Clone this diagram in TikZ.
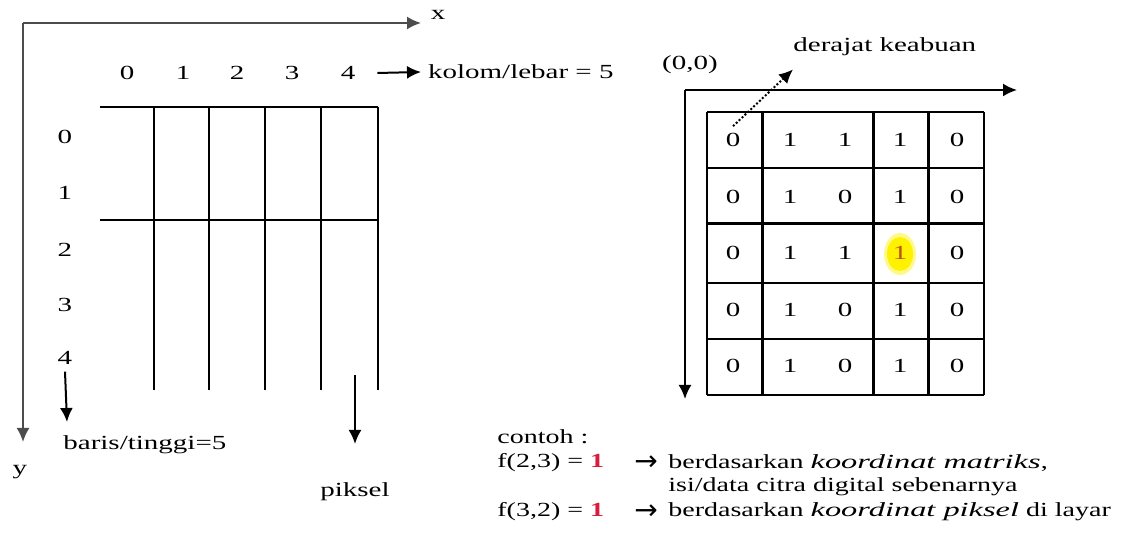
\documentclass[tikz,border=0pt]{standalone}
\usepackage{fontspec}
\setmainfont{Liberation Serif}[FakeStretch=1.45]
\newfontfamily\notefont{Liberation Serif}[FakeStretch=1.40, ItalicFeatures={FakeStretch=1.62}]
\newfontfamily\arrowfont{DejaVu Sans}
\usetikzlibrary{arrows.meta}
\definecolor{numred}{RGB}{215,30,60}
\definecolor{hlorange}{RGB}{190,80,20}
\newcommand{\hlone}{\textcolor{hlorange}{1}}
\newcommand{\bigarrow}{{\fontsize{14}{14}\arrowfont →}}
\tikzstyle{axis} = [draw=black!70, line width=1pt]
\tikzstyle{arrow} = [line width=1pt, -{Latex[length=7pt,width=6.5pt]}]
\tikzstyle{gridline} = [draw=black, line width=0.9pt]
\tikzstyle{thickline} = [draw=black, line width=1.5pt]
\tikzstyle{plain} = [anchor=west, inner sep=0pt]
\tikzstyle{note} = [anchor=west, inner sep=0pt, font=\notefont]

\begin{document}
\begin{tikzpicture}[x=0.5pt, y=-0.5pt]
\useasboundingbox (0,0) rectangle (1130,549);

\node (x) at (438,15) {x};

\node (y) at (20,472) {y};

\coordinate (o) at (23,23);
\coordinate (xtip) at (421,23);
\coordinate (ytip) at (23,442);
\draw [axis, arrow] (o) -- (xtip);
\draw [axis, arrow] (o) -- (ytip);

\node (c0) at (127,73) {0};
\node (c1) at (183,73) {1};
\node (c2) at (237,73) {2};
\node (c3) at (292,73) {3};
\node (c4) at (348,73) {4};

\node (kolom) [anchor=west] at (421,72) {kolom/lebar = 5};
\draw [arrow] ([xshift=7.5pt]c4.east) -- (kolom.west);

\node (r0) at (65,137) {0};
\node (r1) at (65,193) {1};
\node (r2) at (65,250) {2};
\node (r3) at (65,305) {3};
\node (r4) at (65,358) {4};

\draw [gridline] (100,107) -- (378,107);
\draw [gridline] (100,220) -- (378,220);
\foreach \gx in {154,209,265,321,378}
  \draw [gridline] (\gx,107) -- (\gx,390);

\node (baris) [plain] at (63,445) {baris/tinggi=5};
\coordinate (baristip) at (67,422);
\draw [arrow] (r4.south) -- (baristip);

\node (piksel) at (355,492) {piksel};
\coordinate (pstart) at (355,375);
\coordinate (ptip) at (355,444);
\draw [arrow] (pstart) -- (ptip);

\node (origin) at (690,65) {(0,0)};

\node (derajat) [plain] at (793,47) {derajat keabuan};

\coordinate (o2) at (685,90);
\coordinate (x2tip) at (1017,90);
\coordinate (y2tip) at (685,399);
\draw [axis, draw=black, arrow] (o2) -- (x2tip);
\draw [axis, draw=black, arrow] (o2) -- (y2tip);

\foreach \gy in {112,168,283,339,395}
  \draw [gridline] (707,\gy) -- (984,\gy);
\draw [thickline] (707,224) -- (984,224);
\draw [gridline] (707,112) -- (707,395);
\draw [gridline] (984,112) -- (984,395);
\foreach \gx in {762,873,928}
  \draw [thickline] (\gx,112) -- (\gx,395);

\fill [yellow!45] (900,254) ellipse (16 and 21);
\fill [yellow] (900,254) ellipse (13 and 17);

\foreach \vals [count=\r from 0] in {{0,1,1,1,0},{0,1,0,1,0},{0,1,1,\hlone,0},{0,1,0,1,0},{0,1,0,1,0}}
  \foreach \v [count=\c from 0] in \vals {
    \pgfmathsetmacro\mx{{733,790,845,900,957}[\c]}
    \node (m-\r-\c) at (\mx,140+56.6*\r) {\v};
  }

\draw [arrow, densely dotted] (m-0-0.north) -- ([yshift=-6.5pt]derajat.south west);

\node (contoh) [note] at (497,437) {contoh :};

\node (f1) [note] at (497,463) {f(2,3) = \textcolor{numred}{\textbf{1}}};
\node (a1) at (646,463) {\bigarrow};
\node (t1) [note] at (668,463) {berdasarkan \textit{koordinat matriks},};
\node (t2) [note] at (668,487) {isi/data citra digital sebenarnya};

\node (f2) [note] at (497,512) {f(3,2) = \textcolor{numred}{\textbf{1}}};
\node (a2) at (646,512) {\bigarrow};
\node (t3) [note] at (668,512) {berdasarkan \textit{koordinat piksel} di layar};
\end{tikzpicture}
\end{document}
